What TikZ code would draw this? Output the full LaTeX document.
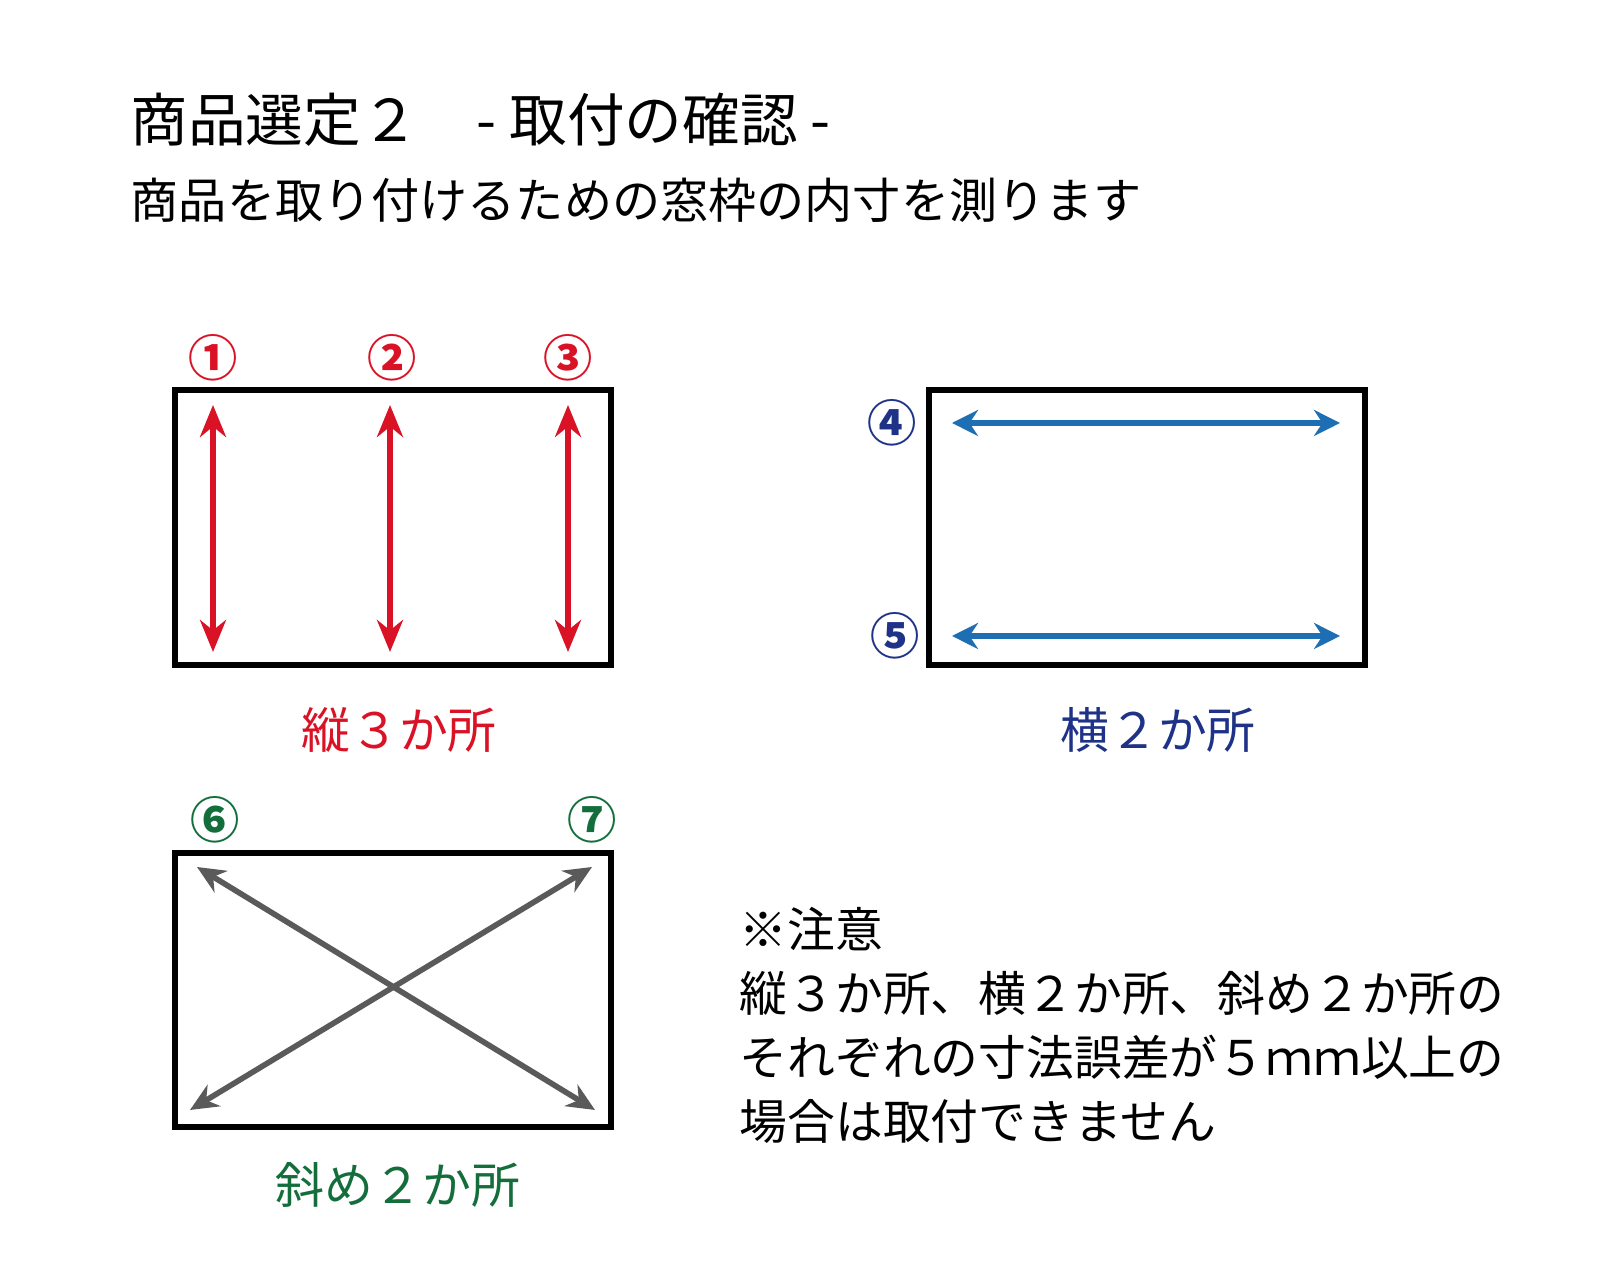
\documentclass[tikz,border=0pt]{standalone}
\usepackage{fontspec}
\setmainfont{Noto Sans CJK JP}
\usetikzlibrary{arrows.meta}

\definecolor{mred}{RGB}{218,18,38}
\definecolor{mnavy}{RGB}{30,50,135}
\definecolor{mblue}{RGB}{30,110,180}
\definecolor{mgreen}{RGB}{20,110,60}
\definecolor{mgray}{RGB}{90,90,90}

\tikzset{
  frame/.style={draw=black,line width=1.7pt},
  num/.style={inner sep=0pt,font=\fontsize{14}{14}\selectfont\bfseries},
  tag/.style={inner sep=0pt,font=\fontsize{13.9}{14}\selectfont},
  vline/.style={mred,line width=1.5pt,{Stealth[length=0.32cm,width=0.26cm]}-{Stealth[length=0.32cm,width=0.26cm]}},
  hline/.style={mblue,line width=1.5pt,{Stealth[length=0.26cm,width=0.26cm]}-{Stealth[length=0.26cm,width=0.26cm]}},
  dline/.style={mgray,line width=1.6pt,{Stealth[length=0.28cm,width=0.25cm]}-{Stealth[length=0.28cm,width=0.25cm]}}
}

\begin{document}
\begin{tikzpicture}
   \useasboundingbox (0,0) rectangle (16,12.8);

   \node[anchor=west,inner sep=0pt,font=\fontsize{16.4}{16}\selectfont] (title) at (1.30,11.60) {商品選定２　- 取付の確認 -};
   \node[anchor=west,inner sep=0pt,font=\fontsize{13.7}{14}\selectfont] (sub) at (1.30,10.80) {商品を取り付けるための窓枠の内寸を測ります};

   % vertical
   \draw[frame] (1.75,8.90) rectangle (6.11,6.15);
   \node[num,mred] (n1) at (2.13,9.22) {①};
   \node[num,mred] (n2) at (3.92,9.22) {②};
   \node[num,mred] (n3) at (5.68,9.22) {③};
   \coordinate (a1) at (2.13,8.75); \coordinate (b1) at (2.13,6.28);
   \coordinate (a2) at (3.90,8.75); \coordinate (b2) at (3.90,6.28);
   \coordinate (a3) at (5.68,8.75); \coordinate (b3) at (5.68,6.28);
   \draw[vline] (a1) -- (b1);
   \draw[vline] (a2) -- (b2);
   \draw[vline] (a3) -- (b3);
   \node[tag,mred] (c1) at (3.99,5.50) {縦３か所};

   % horizontal
   \draw[frame] (9.29,8.90) rectangle (13.65,6.15);
   \node[num,mnavy] (n4) at (8.92,8.57) {④};
   \node[num,mnavy] (n5) at (8.95,6.44) {⑤};
   \coordinate (a4) at (9.52,8.57); \coordinate (b4) at (13.40,8.57);
   \coordinate (a5) at (9.52,6.44); \coordinate (b5) at (13.40,6.44);
   \draw[hline] (a4) -- (b4);
   \draw[hline] (a5) -- (b5);
   \node[tag,mnavy] (c2) at (11.58,5.50) {横２か所};

   % diagonal
   \draw[frame] (1.75,4.27) rectangle (6.11,1.53);
   \node[num,mgreen] (n6) at (2.15,4.60) {⑥};
   \node[num,mgreen] (n7) at (5.92,4.60) {⑦};
   \coordinate (a6) at (1.97,4.13); \coordinate (b6) at (5.95,1.70);
   \coordinate (a7) at (5.92,4.13); \coordinate (b7) at (1.90,1.70);
   \draw[dline] (a6) -- (b6);
   \draw[dline] (b7) -- (a7);
   \node[tag,mgreen] (c3) at (3.98,0.95) {斜め２か所};

   \node[anchor=base west,inner sep=0pt,align=left,font=\fontsize{13.6}{18.3}\selectfont] (note) at (7.39,1.40)
     {※注意\\縦３か所、横２か所、斜め２か所の\\それぞれの寸法誤差が５ｍｍ以上の\\場合は取付できません};
\end{tikzpicture}
\end{document}
